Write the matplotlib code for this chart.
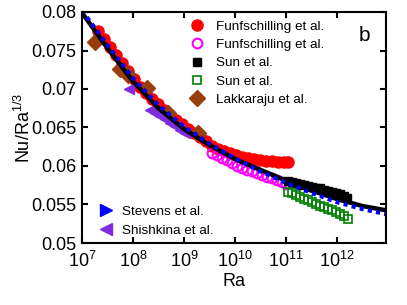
import matplotlib
matplotlib.use("Agg")
import matplotlib.pyplot as plt
from matplotlib.lines import Line2D
import numpy as np

plt.rcParams['font.family'] = ['Liberation Sans', 'DejaVu Sans']
plt.rcParams['mathtext.fontset'] = 'custom'
plt.rcParams['mathtext.rm'] = 'Liberation Sans'
plt.rcParams['mathtext.default'] = 'regular'

# data: log10(Ra) and Nu/Ra^(1/3)
funf1_logra = [7.31, 7.43, 7.55, 7.67, 7.78, 7.90, 8.02, 8.14, 8.25, 8.37, 8.49, 8.61,
               8.73, 8.84, 8.96, 9.08, 9.20, 9.31, 9.43, 9.55, 9.67, 9.78, 9.90, 10.02,
               10.14, 10.25, 10.37, 10.49, 10.61, 10.73, 10.84, 10.96, 11.04]
funf1_nu = [0.0775, 0.0765, 0.0755, 0.0744, 0.0734, 0.0723, 0.0713, 0.0703, 0.0695, 0.0687,
            0.0681, 0.0673, 0.0665, 0.0660, 0.0655, 0.0648, 0.0643, 0.0638, 0.0633, 0.0626,
            0.0622, 0.0620, 0.0617, 0.0614, 0.0612, 0.0610, 0.0609, 0.0608, 0.0607, 0.0607,
            0.0605, 0.0605, 0.0605]

funf2_logra = [9.55, 9.65, 9.75, 9.84, 9.94, 10.04, 10.14, 10.24, 10.33, 10.43, 10.53,
               10.63, 10.73, 10.82, 10.92, 11.00]
funf2_nu = [0.0617, 0.0614, 0.0610, 0.0608, 0.0604, 0.0600, 0.0597, 0.0595, 0.0594, 0.0591,
            0.0588, 0.0586, 0.0584, 0.0582, 0.0579, 0.0577]

sun1_logra = [11.04, 11.12, 11.20, 11.27, 11.35, 11.43, 11.51, 11.59, 11.67, 11.75, 11.82,
              11.90, 11.98, 12.06, 12.14, 12.20]
sun1_nu = [0.0581, 0.0579, 0.0578, 0.0577, 0.0575, 0.0574, 0.0573, 0.0571, 0.0571, 0.0569,
           0.0568, 0.0566, 0.0565, 0.0564, 0.0561, 0.0559]

sun2_logra = [11.04, 11.12, 11.20, 11.27, 11.35, 11.43, 11.51, 11.59, 11.67, 11.75, 11.82,
              11.90, 11.98, 12.06, 12.14, 12.22]
sun2_nu = [0.0566, 0.0565, 0.0562, 0.0560, 0.0557, 0.0556, 0.0553, 0.0551, 0.0548, 0.0547,
           0.0544, 0.0543, 0.0540, 0.0538, 0.0535, 0.0531]

lakk_logra = [7.25, 7.75, 7.90, 8.27, 8.69, 9.27]
lakk_nu = [0.0761, 0.0726, 0.0718, 0.0701, 0.0669, 0.0643]

shish_logra = [7.92, 8.33, 8.43, 8.53, 8.63, 8.73, 8.82, 8.92, 9.02]
shish_nu = [0.0700, 0.0673, 0.0669, 0.0665, 0.0661, 0.0656, 0.0652, 0.0647, 0.0643]

stev_logra = [7.0, 7.5, 8.0, 8.5, 9.0, 9.5, 10.0, 10.5, 11.0, 11.5, 12.0, 12.5, 13.0]
stev_nu = [0.0802, 0.0757, 0.0714, 0.0679, 0.0651, 0.0629, 0.0610, 0.0593, 0.0578, 0.0565,
           0.0553, 0.0544, 0.0537]

gl_logra = [7.0, 7.5, 8.0, 8.5, 9.0, 9.5, 10.0, 10.5, 11.0, 11.5, 12.0, 12.5, 13.0]
gl_nu = [0.0799, 0.0753, 0.0710, 0.0675, 0.0648, 0.0627, 0.0609, 0.0595, 0.0581, 0.0568,
         0.0557, 0.0548, 0.0542]

yticks = [0.05, 0.055, 0.06, 0.065, 0.07, 0.075, 0.08]
ytick_labels = ['0.05', '0.055', '0.06', '0.065', '0.07', '0.075', '0.08']
xticks_exp = [7, 8, 9, 10, 11, 12]

red = '#ff0000'
magenta = '#ff00ff'
green = '#008000'
brown = '#993d0d'
blue = '#0000ff'
purple = '#7f2be0'

fig = plt.figure(figsize=(4.07, 3.05), dpi=100)
ax = fig.add_axes([82 / 407, 62 / 305, 304 / 407, 231 / 305])

def ra(l):
    return 10 ** np.array(l)

h1, = ax.plot(ra(funf1_logra), funf1_nu, 'o', color=red, ms=8, mec=red, ls='none')
h2, = ax.plot(ra(funf2_logra), funf2_nu, 'o', mfc='none', mec=magenta, mew=1.5, ms=7, ls='none')
h3, = ax.plot(ra(sun1_logra), sun1_nu, 's', color='black', ms=6, ls='none')
h4, = ax.plot(ra(sun2_logra), sun2_nu, 's', mfc='none', mec=green, mew=1.2, ms=6, ls='none')
h5, = ax.plot(ra(lakk_logra), lakk_nu, 'D', color=brown, ms=8, ls='none')
ax.plot(ra(shish_logra), shish_nu, '<', color=purple, ms=7, ls='none')
ax.plot(ra(gl_logra), gl_nu, '-', color='black', lw=3.2)
ax.plot(ra(stev_logra), stev_nu, color=blue, lw=3, ls=(0, (1, 1)))

ax.set_xscale('log')
ax.set_xlim(1e7, 10 ** 12.96)
ax.set_ylim(0.05, 0.08)
ax.set_xticks([10.0 ** e for e in xticks_exp])
ax.set_xticklabels(['$10^{%d}$' % e for e in xticks_exp])
ax.set_yticks(yticks)
ax.set_yticklabels(ytick_labels)
ax.tick_params(which='both', direction='in', top=True, right=True, labelsize=13, width=1.5)
ax.tick_params(which='major', length=4, pad=4)
ax.tick_params(axis='x', which='major', pad=6)
ax.tick_params(which='minor', length=2, width=1)
for s in ax.spines.values():
    s.set_linewidth(1.5)

ax.set_xlabel('Ra', fontsize=13, labelpad=1)
ax.set_ylabel('Nu/Ra$^{1/3}$', fontsize=13, labelpad=-2)
ax.text(0.93, 0.90, 'b', transform=ax.transAxes, fontsize=15, ha='center', va='center')

leg1 = ax.legend([h1, h2, h3, h4, h5],
                 ['Funfschilling et al.', 'Funfschilling et al.', 'Sun et al.', 'Sun et al.',
                  'Lakkaraju et al.'],
                 loc='upper left', bbox_to_anchor=(0.357, 0.963), frameon=False, fontsize=9.7,
                 handlelength=1, handletextpad=0.86, borderpad=0, borderaxespad=0,
                 labelspacing=0.43)
ax.add_artist(leg1)
p1 = Line2D([], [], marker='>', color=blue, ls='none', ms=9)
p2 = Line2D([], [], marker='<', color=purple, ls='none', ms=9)
ax.legend([p1, p2], ['Stevens et al.', 'Shishkina et al.'], loc='upper left',
          bbox_to_anchor=(0.057, 0.163), frameon=False, fontsize=9.7, handlelength=1,
          handletextpad=0.69, borderpad=0, borderaxespad=0, labelspacing=0.47)

fig.savefig('out.png', dpi=100)
